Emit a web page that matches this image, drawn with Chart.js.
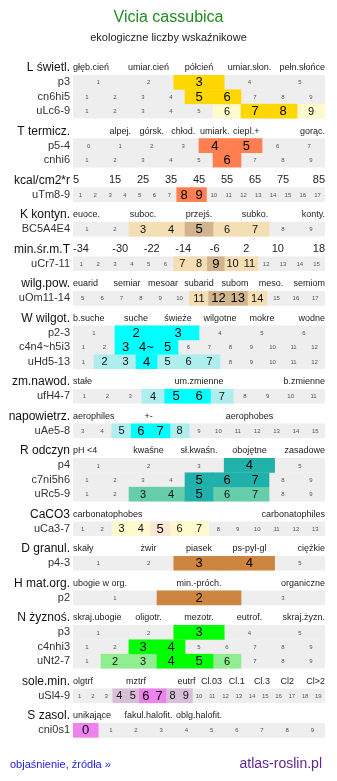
<!DOCTYPE html>
<html lang="pl">
<head>
    <meta charset="UTF-8">
    <title>Vicia cassubica - ekologiczne liczby wskaźnikowe</title>
    <script src="https://cdn.jsdelivr.net/npm/chart.js"></script>
    <style>
        body { margin: 0; background: #fff; }
        #wrap { width: 337px; height: 781px; }
    </style>
</head>
<body>
    <div id="wrap"><canvas id="chart" width="337" height="781"></canvas></div>

    <script>
        // Data
        const title = 'Vicia cassubica';
        const subtitle = 'ekologiczne liczby wskaźnikowe';

        const groupLabels = ['L świetl.', 'T termicz.', 'kcal/cm2*r', 'K kontyn.', 'min.śr.m.T', 'wilg.pow.',
            'W wilgot.', 'zm.nawod.', 'napowietrz.', 'R odczyn', 'CaCO3', 'D granul.', 'H mat.org.',
            'N żyznoś.', 'sole.min.', 'S zasol.'];
        const groupTicks = [
            ['głęb.cień', 'umiar.cień', 'półcień', 'umiar.słon.', 'pełn.słońce'],
            ['', 'alpej.', 'górsk.', 'chłod.', 'umiark.', 'ciepl.+', '', 'gorąc.'],
            ['5', '15', '25', '35', '45', '55', '65', '75', '85'],
            ['euoce.', '', 'suboc.', '', 'przejś.', '', 'subko.', '', 'konty.'],
            ['-34', '-30', '-22', '-14', '-6', '2', '10', '18'],
            ['euarid', 'semiar', 'mesoar', 'subarid', 'subom', 'meso.', 'semiom'],
            ['b.suche', 'suche', 'świeże', 'wilgotne', 'mokre', 'wodne'],
            ['stałe', 'um.zmienne', 'b.zmienne'],
            ['aerophiles', '+-', '', 'aerophobes', ''],
            ['pH <4', 'kwaśne', 'sł.kwaśn.', 'obojętne', 'zasadowe'],
            ['carbonatophobes', 'carbonatophiles'],
            ['skały', 'żwir', 'piasek', 'ps-pyl-gl', 'ciężkie'],
            ['ubogie w org.', 'min.-próch.', 'organiczne'],
            ['skraj.ubogie', 'oligotr.', 'mezotr.', 'eutrof.', 'skraj.żyzn.'],
            ['olgtrf', '', 'mztrf', '', 'eutrf', 'Cl.03', 'Cl.1', 'Cl.3', 'Cl2', 'Cl>2'],
            ['unikające', 'fakul.halofit.', 'oblg.halofit.', '', '']
        ];

        const rowLabels = ['p3', 'cn6hi5', 'uLc6-9', 'p5-4', 'cnhi6', 'uTm8-9', 'BC5A4E4', 'uCr7-11', 'uOm11-14',
            'p2-3', 'c4n4~h5i3', 'uHd5-13', 'ufH4-7', 'uAe5-8', 'p4', 'c7ni5h6', 'uRc5-9', 'uCa3-7',
            'p4-3', 'p2', 'p3', 'c4nhi3', 'uNt2-7', 'uSl4-9', 'cni0s1'];
        const rowGroup = [0, 0, 0, 1, 1, 2, 3, 4, 5, 6, 6, 6, 7, 8, 9, 9, 9, 10, 11, 12, 13, 13, 13, 14, 15];
        const rowFrom  = [1, 1, 1, 0, 1, 1, 1, 1, 5, 1, 1, 1, 1, 3, 1, 1, 1, 1, 1, 1, 1, 1, 1, 1, 0];
        const rowTo    = [5, 9, 9, 7, 9, 17, 9, 15, 17, 6, 12, 12, 11, 15, 5, 9, 9, 13, 5, 3, 5, 9, 9, 19, 9];
        const rowStrong = [[3], [5, 6], [7, 8], [4, 5], [6], [8, 9], [5], [9], [12, 13], [2, 3], [3, 4, 5], [4],
            [5, 6], [6, 7], [4], [5, 6, 7], [5], [5], [3, 4], [2], [3], [3, 4], [4, 5], [6, 7], [0]];
        const rowWeak = [[], [], [6, 9], [], [], [], [3, 4, 6, 7], [7, 8, 10, 11], [11, 14], [], [], [2, 3, 5, 6, 7],
            [4, 7], [5, 8], [], [], [3, 4, 6, 7], [3, 4, 6, 7], [], [], [], [], [2, 3, 6], [4, 5, 8, 9], []];
        const cellText = { 'c4n4~h5i3': { 4: '4~' } };

        const footerLeft = 'objaśnienie, źródła »';
        const footerRight = 'atlas-roslin.pl';

        // Colours per group
        const strongColors = ['#ffd700', '#ff7f50', '#ff7f50', '#d2b48c', '#d2b48c', '#d2b48c', '#00ffff', '#00ffff',
            '#00ffff', '#20b2aa', '#fde7d4', '#cd853f', '#cd853f', '#00ff00', '#ee82ee', '#ee82ee'];
        const weakColors = ['#fffacd', '#ffa07a', '#ffa07a', '#f5deb3', '#f5deb3', '#f5deb3', '#afeeee', '#afeeee',
            '#afeeee', '#66cdaa', '#fffacd', '#deb887', '#deb887', '#90ee90', '#d8bfd8', '#d8bfd8'];
        const FONT = "'Liberation Sans', Arial, sans-serif";

        // Row positions (1 unit = one row, extra gap before each header)
        const rowY = [], headY = [];
        rowGroup.forEach((g, i) => {
            if (i === 0 || g !== rowGroup[i - 1]) {
                headY[g] = i === 0 ? 0 : rowY[i - 1] + 1.4;
                rowY[i] = headY[g] + 1;
            } else {
                rowY[i] = rowY[i - 1] + 1;
            }
        });

        function cellBars(pick) {
            const out = [];
            rowLabels.forEach((lab, r) => {
                const n = rowTo[r] - rowFrom[r] + 1;
                pick[r].forEach(v => {
                    const i = v - rowFrom[r];
                    out.push({ x: [i / n, (i + 1) / n], y: rowY[r], g: rowGroup[r] });
                });
            });
            return out;
        }

        const barOpts = { barThickness: 14, grouped: false, borderWidth: 0 };

        const textPlugin = {
            id: 'cellText',
            afterDatasetsDraw(chart) {
                const { ctx, chartArea, scales: { x, y } } = chart;
                const W = chart.width;
                ctx.save();
                ctx.textBaseline = 'middle';

                // title
                ctx.textAlign = 'center';
                ctx.fillStyle = '#1e8c1e';
                ctx.font = '16px ' + FONT;
                ctx.fillText(title, W / 2, 18);
                ctx.fillStyle = '#222';
                ctx.font = '11px ' + FONT;
                ctx.fillText(subtitle, W / 2, 38);

                // group headers
                groupLabels.forEach((lab, g) => {
                    const py = y.getPixelForValue(headY[g]);
                    ctx.textAlign = 'right';
                    ctx.fillStyle = '#111';
                    ctx.font = '12px ' + FONT;
                    ctx.fillText(lab, chartArea.left - 3, py);
                    const ticks = groupTicks[g];
                    const n = ticks.length;
                    const numeric = ticks.every(t => !isNaN(parseFloat(t)));
                    ctx.font = (numeric ? '11px ' : '9px ') + FONT;
                    ctx.fillStyle = '#222';
                    ticks.forEach((t, j) => {
                        if (!t) return;
                        if (j === 0) {
                            ctx.textAlign = 'left';
                            ctx.fillText(t, x.getPixelForValue(0), py);
                        } else if (j === n - 1) {
                            ctx.textAlign = 'right';
                            ctx.fillText(t, x.getPixelForValue(1), py);
                        } else {
                            ctx.textAlign = 'center';
                            ctx.fillText(t, x.getPixelForValue((j + 0.5) / n), py);
                        }
                    });
                });

                // cell numbers
                ctx.textAlign = 'center';
                rowLabels.forEach((lab, r) => {
                    const n = rowTo[r] - rowFrom[r] + 1;
                    const py = y.getPixelForValue(rowY[r]);
                    for (let i = 0; i < n; i++) {
                        const v = rowFrom[r] + i;
                        let txt = String(v);
                        if (cellText[lab] && cellText[lab][v]) txt = cellText[lab][v];
                        if (rowStrong[r].includes(v)) {
                            ctx.font = '13px ' + FONT;
                            ctx.fillStyle = '#000';
                        } else if (rowWeak[r].includes(v)) {
                            ctx.font = '11px ' + FONT;
                            ctx.fillStyle = '#111';
                        } else {
                            ctx.font = '6px ' + FONT;
                            ctx.fillStyle = '#555';
                        }
                        ctx.fillText(txt, x.getPixelForValue((i + 0.5) / n), py + 0.5);
                    }
                });

                // footer
                ctx.textAlign = 'left';
                ctx.fillStyle = '#2323e6';
                ctx.font = '11px ' + FONT;
                ctx.fillText(footerLeft, 10, 765);
                ctx.textAlign = 'right';
                ctx.fillStyle = '#5e2690';
                ctx.font = '14px ' + FONT;
                ctx.fillText(footerRight, 322, 764);
                ctx.restore();
            }
        };

        Chart.defaults.font.family = FONT;

        const chart = new Chart(document.getElementById('chart'), {
            type: 'bar',
            data: {
                datasets: [
                    Object.assign({ label: 'main', order: 1, data: cellBars(rowStrong),
                        backgroundColor: c => strongColors[c.raw.g] }, barOpts),
                    Object.assign({ label: 'range', order: 2, data: cellBars(rowWeak),
                        backgroundColor: c => weakColors[c.raw.g] }, barOpts),
                    Object.assign({ label: 'scale', order: 3, data: rowY.map(v => ({ x: [0, 1], y: v })),
                        backgroundColor: '#eeeeee' }, barOpts)
                ]
            },
            options: {
                indexAxis: 'y',
                responsive: false,
                devicePixelRatio: 1,
                animation: false,
                events: [],
                layout: { padding: { top: 30, bottom: 7, left: 0, right: 12 } },
                plugins: { legend: { display: false }, tooltip: { enabled: false } },
                scales: {
                    x: { type: 'linear', min: 0, max: 1, display: false },
                    y: {
                        type: 'linear',
                        reverse: true,
                        min: rowY[0] - 2.6,
                        max: rowY[rowY.length - 1] + 2,
                        grid: { display: false, drawTicks: false },
                        border: { display: false },
                        afterBuildTicks: s => { s.ticks = rowY.map(v => ({ value: v })); },
                        afterFit: s => { s.width = 73; s.paddingTop = 0; s.paddingBottom = 0; },
                        ticks: {
                            autoSkip: false,
                            padding: 3,
                            color: '#333',
                            font: { size: 11 },
                            callback: (v, i) => rowLabels[i]
                        }
                    }
                }
            },
            plugins: [textPlugin]
        });
    </script>
</body>
</html>
